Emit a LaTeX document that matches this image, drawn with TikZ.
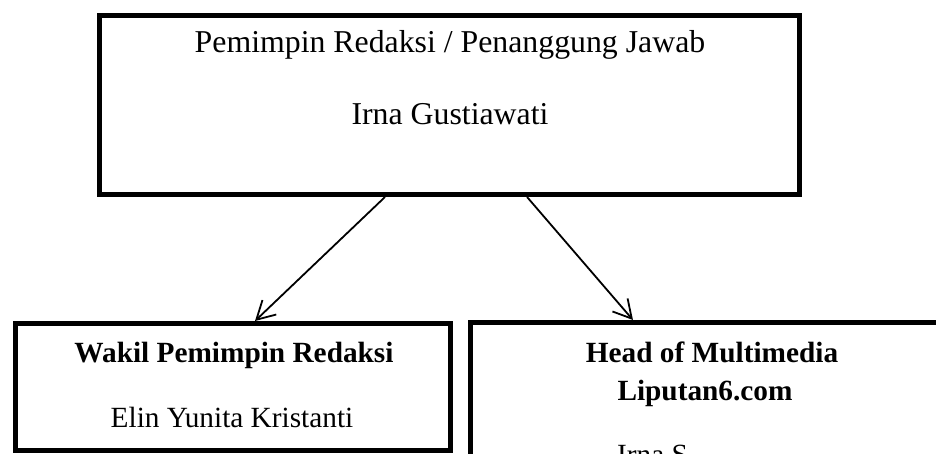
\documentclass[tikz,border=0pt]{standalone}
\usepackage{fontspec}
\setmainfont{Liberation Serif}
\usetikzlibrary{positioning,calc,arrows.meta}
\newcommand{\headfont}{\fontsize{31.8}{38}\selectfont}
\newcommand{\unitfont}{\fontsize{29.3}{35}\selectfont}

\begin{document}
\begin{tikzpicture}[x=1pt,y=-1pt,
  orgbox/.style={draw,line width=5pt,rectangle,inner sep=0pt},
  link/.style={line width=1.8pt,-{Straight Barb[length=18pt,width=20pt]}},
  toptext/.style={font=\headfont,anchor=base,inner sep=0pt},
  unittext/.style={font=\unitfont,anchor=base,inner sep=0pt}]
\useasboundingbox (0,0) rectangle (936,454);
% Pemimpin Redaksi
\node[orgbox,minimum width=700pt,minimum height=179pt] (chief) at (449.5,105) {};
\node[toptext] (chieftitle) at (450,53) {Pemimpin Redaksi / Penanggung Jawab};
\node[toptext] (chiefname) at (450,125) {Irna Gustiawati};
% Wakil Pemimpin Redaksi
\node[orgbox,minimum width=435pt,minimum height=127pt] (deputy) at (233,387) {};
\node[unittext,font=\unitfont\bfseries] (deputytitle) at (234,362) {Wakil Pemimpin Redaksi};
\node[unittext] (deputyname) at (232,427) {Elin Yunita Kristanti};
% Head of Multimedia
\node[orgbox,minimum width=499.5pt,minimum height=167.5pt] (multimedia) at (720.25,406.25) {};
\node[unittext,font=\unitfont\bfseries] (mmtitle) at (712,362) {Head of Multimedia};
\node[unittext,font=\unitfont\bfseries] (mmsite) at (705,400) {Liputan6.com};
\node[unittext,anchor=base west] (mmname) at (617,464) {Irna S};
% arrows
\draw[link] ($(chief.south west)!0.4085!(chief.south east)$) -- ($(deputy.north west)!0.55!(deputy.north east)$);
\draw[link] ($(chief.south west)!0.61!(chief.south east)$) -- ($(multimedia.north west)!0.327!(multimedia.north east)$);
\end{tikzpicture}
\end{document}
